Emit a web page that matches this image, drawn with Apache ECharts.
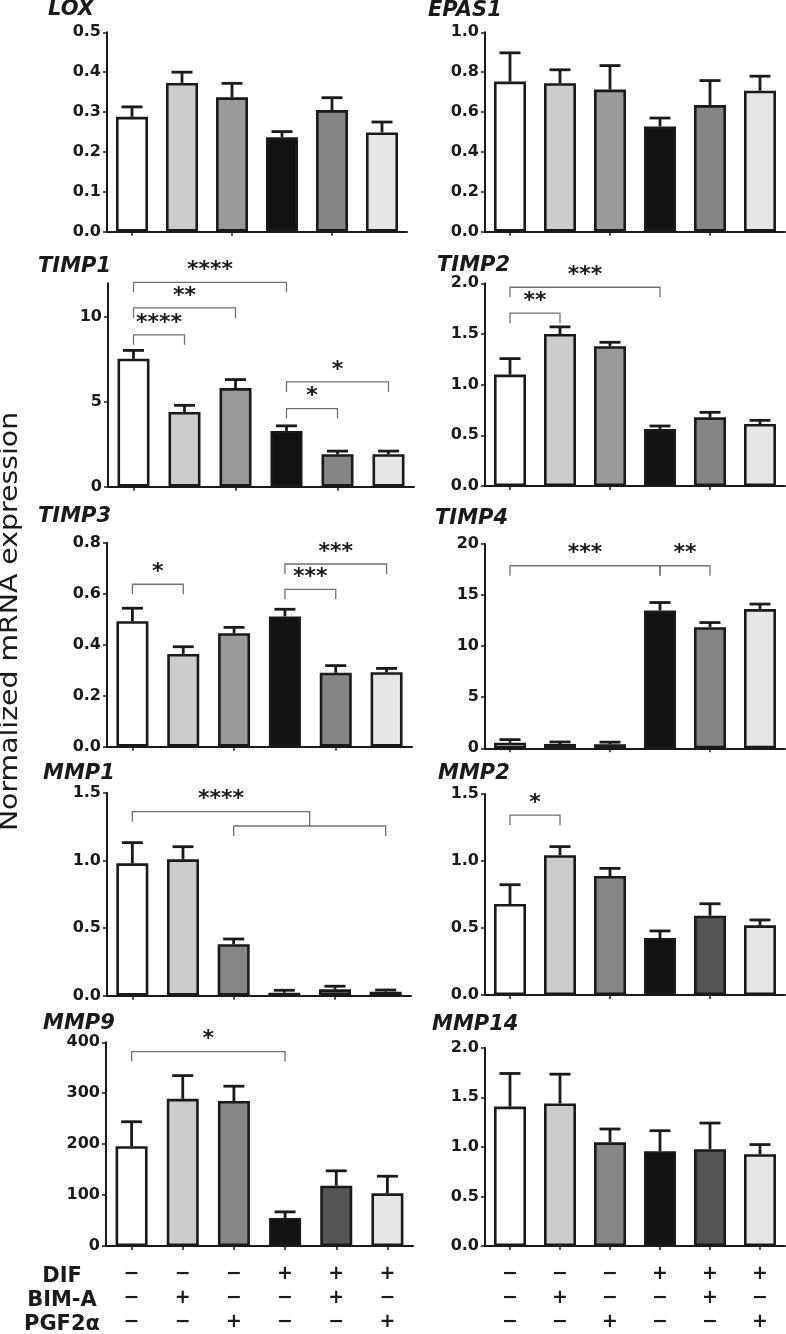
<!DOCTYPE html>
<html><head><meta charset="utf-8">
<script src="https://cdn.jsdelivr.net/npm/echarts@6/dist/echarts.min.js"></script>
<style>html,body{margin:0;padding:0;background:#fff}#c{width:786px;height:1334px}</style>
</head><body><div id="c"></div><script>
// ---------- DATA ----------
const groups = ['Control', 'BIM-A', 'PGF2α', 'DIF', 'DIF+BIM-A', 'DIF+PGF2α'];
const rowLabels = ['DIF', 'BIM-A', 'PGF2α'];
const difRow  = ['−', '−', '−', '+', '+', '+'];
const bimaRow = ['−', '+', '−', '−', '+', '−'];
const pgfRow  = ['−', '−', '+', '−', '−', '+'];

const genes = ['LOX', 'EPAS1', 'TIMP1', 'TIMP2', 'TIMP3', 'TIMP4', 'MMP1', 'MMP2', 'MMP9', 'MMP14'];

const loxMean   = [0.288, 0.373, 0.337, 0.237, 0.305, 0.249];
const loxSem    = [0.025, 0.027, 0.035, 0.014, 0.031, 0.026];
const epas1Mean = [0.753, 0.745, 0.713, 0.528, 0.635, 0.707];
const epas1Sem  = [0.144, 0.067, 0.120, 0.042, 0.123, 0.073];
const timp1Mean = [7.55, 4.41, 5.82, 3.29, 1.92, 1.92];
const timp1Sem  = [0.49, 0.39, 0.50, 0.30, 0.18, 0.18];
const timp2Mean = [1.099, 1.500, 1.379, 0.563, 0.678, 0.612];
const timp2Sem  = [0.158, 0.070, 0.039, 0.029, 0.049, 0.036];
const timp3Mean = [0.492, 0.364, 0.445, 0.511, 0.290, 0.292];
const timp3Sem  = [0.051, 0.028, 0.023, 0.028, 0.028, 0.015];
const timp4Mean = [0.55, 0.42, 0.40, 13.49, 11.86, 13.63];
const timp4Sem  = [0.30, 0.20, 0.20, 0.78, 0.45, 0.49];
const mmp1Mean  = [0.978, 1.008, 0.380, 0.022, 0.047, 0.030];
const mmp1Sem   = [0.153, 0.093, 0.039, 0.018, 0.023, 0.012];
const mmp2Mean  = [0.679, 1.043, 0.888, 0.425, 0.592, 0.520];
const mmp2Sem   = [0.144, 0.064, 0.057, 0.053, 0.089, 0.040];
const mmp9Mean  = [196, 289, 284.7, 55, 118.4, 103.5];
const mmp9Sem   = [48, 45.6, 29.1, 12, 29.2, 33.5];
const mmp14Mean = [1.406, 1.437, 1.046, 0.956, 0.976, 0.926];
const mmp14Sem  = [0.334, 0.296, 0.134, 0.207, 0.264, 0.097];

const loxTicks   = [0, 0.1, 0.2, 0.3, 0.4, 0.5];
const epas1Ticks = [0, 0.2, 0.4, 0.6, 0.8, 1.0];
const timp1Ticks = [0, 5, 10];
const timp2Ticks = [0, 0.5, 1.0, 1.5, 2.0];
const timp3Ticks = [0, 0.2, 0.4, 0.6, 0.8];
const timp4Ticks = [0, 5, 10, 15, 20];
const mmp1Ticks  = [0, 0.5, 1.0, 1.5];
const mmp2Ticks  = [0, 0.5, 1.0, 1.5];
const mmp9Ticks  = [0, 100, 200, 300, 400];
const mmp14Ticks = [0, 0.5, 1.0, 1.5, 2.0];
const yMaxes = [0.5, 1.0, 12, 2.0, 0.8, 20, 1.5, 1.5, 400, 2.0];

// significance brackets: [fromGroup, toGroup, yValue, label, (optional) right-drop-to value]
const timp1Sig = [[0, 3, 12.06, '****'], [0, 2, 10.55, '**'], [0, 1, 8.96, '****'], [3, 5, 6.18, '*'], [3, 4, 4.61, '*']];
const timp2Sig = [[0, 3, 1.961, '***'], [0, 1, 1.705, '**']];
const timp3Sig = [[0, 1, 0.637, '*'], [3, 5, 0.7165, '***'], [3, 4, 0.617, '***']];
const timp4Sig = [[0, 3, 17.87, '***'], [3, 4, 17.87, '**']];
const mmp1Sig  = [[0, 3.5, 1.36, '****', 1.254], [2, 5, 1.254, '']];
const mmp2Sig  = [[0, 1, 1.343, '*']];
const mmp9Sig  = [[0, 3, 381.7, '*']];

const means = [loxMean, epas1Mean, timp1Mean, timp2Mean, timp3Mean, timp4Mean, mmp1Mean, mmp2Mean, mmp9Mean, mmp14Mean];
const sems  = [loxSem, epas1Sem, timp1Sem, timp2Sem, timp3Sem, timp4Sem, mmp1Sem, mmp2Sem, mmp9Sem, mmp14Sem];
const ticks = [loxTicks, epas1Ticks, timp1Ticks, timp2Ticks, timp3Ticks, timp4Ticks, mmp1Ticks, mmp2Ticks, mmp9Ticks, mmp14Ticks];
const sigs  = [[], [], timp1Sig, timp2Sig, timp3Sig, timp4Sig, mmp1Sig, mmp2Sig, mmp9Sig, []];

// ---------- LAYOUT / STYLE ----------
const layout = [
  {left: 107, top: 32.3,   width: 300, height: 199.4, tx: 48,  ty: 10},
  {left: 485, top: 32.3,   width: 300, height: 199.4, tx: 428, ty: 11},
  {left: 108, top: 283.3,  width: 306, height: 203.4, tx: 38,  ty: 266.5},
  {left: 485, top: 283.3,  width: 300, height: 202.7, tx: 437, ty: 265.5},
  {left: 107, top: 542.7,  width: 305, height: 204,   tx: 38,  ty: 516.5},
  {left: 485, top: 544,    width: 300, height: 204.3, tx: 435, ty: 518.5},
  {left: 107, top: 792.7,  width: 304, height: 203,   tx: 43,  ty: 774},
  {left: 485, top: 794,    width: 300, height: 201,   tx: 438, ty: 774},
  {left: 106, top: 1042.3, width: 307, height: 206,   tx: 43,  ty: 1024},
  {left: 485, top: 1047.7, width: 300, height: 199.6, tx: 432, ty: 1025}
];
const palA = ['#ffffff', '#cccccc', '#9a9a9a', '#121212', '#858585', '#e6e6e6'];
const palB = ['#ffffff', '#cccccc', '#868686', '#121212', '#555555', '#e6e6e6'];
const palettes = [palA, palA, palA, palA, palA, palA, palB, palB, palB, palB];
const INK = '#1a1a1a';
const FONT = '"DejaVu Sans", sans-serif';
const TICK = 10;

const grid = [], xAxis = [], yAxis = [], series = [], graphic = [];

layout.forEach((L, i) => {
  grid.push({left: L.left, top: L.top, width: L.width, height: L.height, containLabel: false});
  const bottom = i >= 8;
  xAxis.push({
    type: 'category', gridIndex: i, data: groups,
    axisLine: {lineStyle: {color: INK, width: 2}},
    axisTick: {show: true, alignWithLabel: true, length: 4, lineStyle: {color: INK, width: 1.5}},
    axisLabel: bottom ? {
      show: true, interval: 0, margin: 16, lineHeight: 24, fontSize: 19, fontWeight: 'bold',
      fontFamily: FONT, color: INK,
      formatter: (v, idx) => difRow[idx] + '\n' + bimaRow[idx] + '\n' + pgfRow[idx]
    } : {show: false}
  });
  const tv = ticks[i];
  const dec = tv.some(t => Math.round(t) !== t) ? 1 : 0;
  yAxis.push({
    type: 'value', gridIndex: i, min: 0, max: yMaxes[i],
    axisLine: {show: true, lineStyle: {color: INK, width: 2}},
    axisTick: {show: true, length: 4, customValues: tv, lineStyle: {color: INK, width: 1.5}},
    axisLabel: {show: true, customValues: tv, margin: 6, fontSize: 16, fontWeight: 'bold', fontFamily: FONT,
      color: INK, formatter: v => Number(v).toFixed(dec)},
    splitLine: {show: false}
  });
  const pal = palettes[i];
  series.push({
    type: 'bar', xAxisIndex: i, yAxisIndex: i, barWidth: 32, animation: false, silent: true, z: 2,
    itemStyle: {borderColor: INK, borderWidth: 2.6},
    data: means[i].map((v, j) => ({value: v, itemStyle: {color: pal[j]}}))
  });
  const sem = sems[i];
  series.push({
    type: 'custom', xAxisIndex: i, yAxisIndex: i, animation: false, silent: true, z: 3, clip: false,
    encode: {x: 0, y: 1},
    data: means[i].map((m, j) => [j, m, sem[j]]),
    renderItem: (params, api) => {
      const x = api.value(0), m = api.value(1), s = api.value(2);
      const p0 = api.coord([x, m]), p1 = api.coord([x, m + s]);
      return {type: 'group', children: [
        {type: 'line', shape: {x1: p0[0], y1: p0[1], x2: p1[0], y2: p1[1]}, style: {stroke: INK, lineWidth: 2.8}},
        {type: 'line', shape: {x1: p1[0] - 10.5, y1: p1[1], x2: p1[0] + 10.5, y2: p1[1]}, style: {stroke: INK, lineWidth: 2.8}}
      ]};
    }
  });
  const br = sigs[i];
  if (br.length) {
    const xAt = (api, v, y) => {
      const a = api.coord([Math.floor(v), y]), b = api.coord([Math.ceil(v), y]);
      const f = v - Math.floor(v);
      return [a[0] + (b[0] - a[0]) * f, a[1]];
    };
    series.push({
      type: 'custom', xAxisIndex: i, yAxisIndex: i, animation: false, silent: true, z: 4, clip: false,
      encode: {x: 0, y: 1},
      data: br.map(b => [Math.floor(b[0]), b[2]]),
      renderItem: (params, api) => {
        const b = br[params.dataIndex];
        const Lp = xAt(api, b[0], b[2]), Rp = xAt(api, b[1], b[2]);
        const yl = Lp[1];
        const dropR = b[4] != null ? api.coord([0, b[4]])[1] - yl : TICK;
        const ch = [{type: 'polyline',
          shape: {points: [[Lp[0], yl + TICK], [Lp[0], yl], [Rp[0], yl], [Rp[0], yl + dropR]]},
          style: {stroke: '#707070', lineWidth: 1.3, fill: null}}];
        if (b[3]) ch.push({type: 'text', style: {text: b[3], x: (Lp[0] + Rp[0]) / 2, y: yl - 12,
          align: 'center', verticalAlign: 'middle', textAlign: 'center', textVerticalAlign: 'middle',
          font: 'bold 22px ' + FONT, fill: INK}});
        return {type: 'group', children: ch};
      }
    });
  }
  graphic.push({type: 'text', x: L.tx, y: L.ty, silent: true,
    style: {text: genes[i], font: 'italic bold 21px ' + FONT, fill: INK,
      textAlign: 'left', textVerticalAlign: 'middle', align: 'left', verticalAlign: 'middle'}});
});

graphic.push({type: 'text', x: 11, y: 621.5, rotation: Math.PI / 2, scaleX: 1.18, silent: true,
  style: {text: 'Normalized mRNA expression', font: '24px ' + FONT, fill: INK,
    textAlign: 'center', textVerticalAlign: 'middle', align: 'center', verticalAlign: 'middle'}});
const rowYs = [1276.5, 1300.5, 1324.5];
rowLabels.forEach((t, k) => {
  graphic.push({type: 'text', x: 62, y: rowYs[k], silent: true,
    style: {text: t, font: 'bold 21px ' + FONT, fill: INK,
      textAlign: 'center', textVerticalAlign: 'middle', align: 'center', verticalAlign: 'middle'}});
});

const chart = echarts.init(document.getElementById('c'), null, {renderer: 'canvas'});
chart.setOption({animation: false, backgroundColor: '#ffffff', grid, xAxis, yAxis, series, graphic});
</script></body></html>
